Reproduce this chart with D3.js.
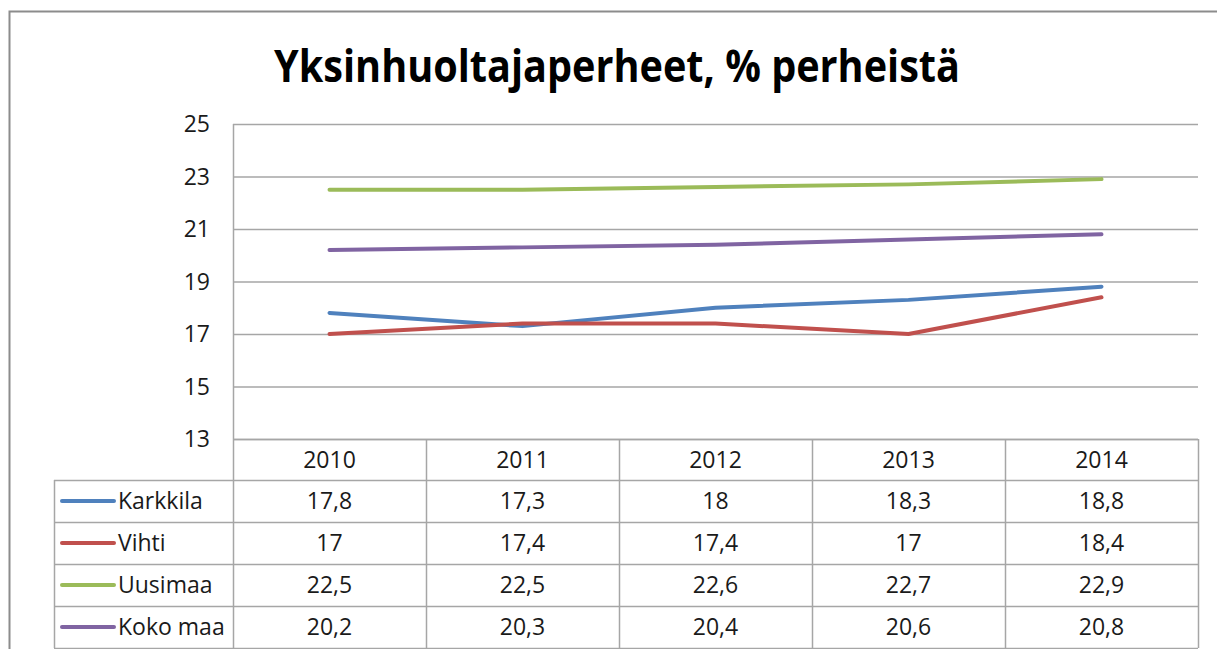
<!DOCTYPE html>
<html>
<head>
<meta charset="utf-8">
<script src="https://cdn.jsdelivr.net/npm/d3@7"></script>
<style>
  body { margin: 0; background: #fff; }
  svg { display: block; font-family: "Open Sans", "Noto Sans", sans-serif; }
</style>
</head>
<body>
<div id="chart"></div>
<script>
// Data
const years = ["2010", "2011", "2012", "2013", "2014"];
const seriesNames = ["Karkkila", "Vihti", "Uusimaa", "Koko maa"];
const karkkila = [17.8, 17.3, 18, 18.3, 18.8];
const vihti = [17, 17.4, 17.4, 17, 18.4];
const uusimaa = [22.5, 22.5, 22.6, 22.7, 22.9];
const kokoMaa = [20.2, 20.3, 20.4, 20.6, 20.8];
const yTicks = [13, 15, 17, 19, 21, 23, 25];
const colors = ["#4F81BD", "#C0504D", "#9BBB59", "#8064A2"];

const seriesValues = [karkkila, vihti, uusimaa, kokoMaa];

const width = 1217;
const height = 649;
const plotLeft = 233, plotRight = 1198, plotTop = 124, plotBottom = 439;
const tableLeft = 54;
const headerH = 41, rowH = 42;
const fontSize = "23px";

const svg = d3.select("#chart")
  .append("svg")
  .attr("width", width)
  .attr("height", height);

// outer chart border (runs off the right and bottom of the picture)
svg.append("rect")
  .attr("x", 9.5)
  .attr("y", 11.5)
  .attr("width", width + 20)
  .attr("height", height + 20)
  .attr("fill", "none")
  .attr("stroke", "#8c8c8c")
  .attr("stroke-width", 2);

// title
svg.append("text")
  .attr("x", 617)
  .attr("y", 82)
  .attr("text-anchor", "middle")
  .attr("textLength", 686)
  .attr("lengthAdjust", "spacingAndGlyphs")
  .style("font-size", "44px")
  .style("font-weight", "bold")
  .style("fill", "#000")
  .text("Yksinhuoltajaperheet, % perheistä");

// scales
const x = d3.scaleBand()
  .domain(years)
  .range([plotLeft, plotRight]);

const y = d3.scaleLinear()
  .domain([13, 25])
  .range([plotBottom, plotTop]);

// gridlines
svg.append("g")
  .selectAll("line")
  .data(yTicks)
  .join("line")
  .attr("x1", plotLeft)
  .attr("x2", plotRight)
  .attr("y1", d => y(d) + 0.5)
  .attr("y2", d => y(d) + 0.5)
  .attr("stroke", "#a6a6a6")
  .attr("stroke-width", 1.5);

// y axis line
svg.append("line")
  .attr("x1", plotLeft + 0.5)
  .attr("x2", plotLeft + 0.5)
  .attr("y1", plotTop)
  .attr("y2", plotBottom)
  .attr("stroke", "#a6a6a6")
  .attr("stroke-width", 1.5);

// y tick labels
svg.append("g")
  .selectAll("text")
  .data(yTicks)
  .join("text")
  .attr("x", 210)
  .attr("y", d => y(d))
  .attr("dy", "0.35em")
  .attr("text-anchor", "end")
  .style("font-size", fontSize)
  .style("fill", "#1a1a1a")
  .text(d => d);

// lines
const line = d3.line()
  .x((d, i) => x(years[i]) + x.bandwidth() / 2)
  .y(d => y(d));

seriesValues.forEach((vals, i) => {
  svg.append("path")
    .datum(vals)
    .attr("d", line)
    .attr("fill", "none")
    .attr("stroke", colors[i])
    .attr("stroke-width", 4)
    .attr("stroke-linecap", "round")
    .attr("stroke-linejoin", "round");
});

// data table
const table = svg.append("g");
const tableTop = plotBottom;
const rowY = i => tableTop + headerH + i * rowH;
const tableBottom = rowY(seriesNames.length);
const gridColor = "#a6a6a6";

// horizontal rules
table.append("line")
  .attr("x1", plotLeft).attr("x2", plotRight)
  .attr("y1", tableTop + 0.5).attr("y2", tableTop + 0.5)
  .attr("stroke", gridColor).attr("stroke-width", 1.5);

d3.range(seriesNames.length + 1).forEach(i => {
  table.append("line")
    .attr("x1", tableLeft).attr("x2", plotRight)
    .attr("y1", rowY(i) + 0.5).attr("y2", rowY(i) + 0.5)
    .attr("stroke", gridColor).attr("stroke-width", 1.5);
});

// vertical rules
table.append("line")
  .attr("x1", tableLeft + 0.5).attr("x2", tableLeft + 0.5)
  .attr("y1", rowY(0)).attr("y2", tableBottom)
  .attr("stroke", gridColor).attr("stroke-width", 1.5);

years.concat(["end"]).forEach(yr => {
  const xx = yr === "end" ? plotRight : x(yr);
  table.append("line")
    .attr("x1", xx + 0.5).attr("x2", xx + 0.5)
    .attr("y1", tableTop).attr("y2", tableBottom)
    .attr("stroke", gridColor).attr("stroke-width", 1.5);
});

// header years
table.selectAll("text.year")
  .data(years)
  .join("text")
  .attr("class", "year")
  .attr("x", d => x(d) + x.bandwidth() / 2)
  .attr("y", tableTop + headerH / 2)
  .attr("dy", "0.35em")
  .attr("text-anchor", "middle")
  .style("font-size", fontSize)
  .style("fill", "#1a1a1a")
  .text(d => d);

const fmt = v => String(v).replace(".", ",");

seriesNames.forEach((name, i) => {
  const cy = rowY(i) + rowH / 2;
  table.append("line")
    .attr("x1", 62).attr("x2", 114)
    .attr("y1", cy).attr("y2", cy)
    .attr("stroke", colors[i])
    .attr("stroke-width", 4)
    .attr("stroke-linecap", "round");
  table.append("text")
    .attr("x", 118)
    .attr("y", cy)
    .attr("dy", "0.35em")
    .style("font-size", fontSize)
    .style("fill", "#1a1a1a")
    .text(name);
  years.forEach((yr, j) => {
    table.append("text")
      .attr("x", x(yr) + x.bandwidth() / 2)
      .attr("y", cy)
      .attr("dy", "0.35em")
      .attr("text-anchor", "middle")
      .style("font-size", fontSize)
      .style("fill", "#1a1a1a")
      .text(fmt(seriesValues[i][j]));
  });
});
</script>
</body>
</html>
